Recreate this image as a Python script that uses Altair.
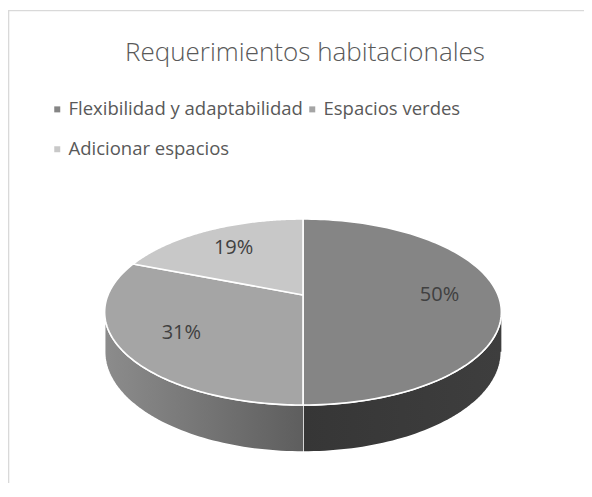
import altair as alt
import pandas as pd

# ---- data ----
categories = ["Flexibilidad y adaptabilidad", "Espacios verdes", "Adicionar espacios"]
values = [50, 31, 19]
labels = ["50%", "31%", "19%"]
top_colors = ["#858585", "#a5a5a5", "#c8c8c8"]

df = pd.DataFrame({"cat": categories, "value": values, "label": labels,
                   "ord": list(range(len(categories)))})

# ---- 3D view parameters (style) ----
P = 0.183     # perspective strength
S = 0.461     # vertical squash of the tilted disc
D = 0.197     # extrusion depth
N = 120       # arc resolution
M = 60        # side arc resolution

W, H = 576, 473
PAD_TOP = 2
x_dom = [-1.5128, 1.4410]
y_dom = [-0.9641, 1.4615]

xs = alt.Scale(domain=x_dom, nice=False, zero=False)
ys = alt.Scale(domain=y_dom, nice=False, zero=False)

base = (
    alt.Chart(df)
    .transform_window(cum="sum(value)", sort=[alt.SortField("ord")], frame=[None, 0])
    .transform_joinaggregate(total="sum(value)")
    .transform_calculate(
        a0="2*PI*(datum.cum-datum.value)/datum.total",
        a1="2*PI*datum.cum/datum.total",
    )
)

# top face wedges
top = (
    base.transform_calculate(t=f"sequence(-1, {N + 2})")
    .transform_flatten(["t"])
    .transform_calculate(
        rr=f"(datum.t < 0 || datum.t > {N}) ? 0 : 1",
        ang=f"datum.a0 + (datum.a1-datum.a0)*clamp(datum.t,0,{N})/{N}",
    )
    .transform_calculate(X="datum.rr*sin(datum.ang)", Z="datum.rr*cos(datum.ang)")
    .transform_calculate(w=f"1 + {P}*datum.Z")
    .transform_calculate(px="datum.X/datum.w", py=f"{S}*datum.Z/datum.w")
    .mark_line(filled=True, stroke="white", strokeWidth=1.6, strokeJoin="round")
    .encode(
        x=alt.X("px:Q", scale=xs, axis=None),
        y=alt.Y("py:Q", scale=ys, axis=None),
        order=alt.Order("t:Q"),
        color=alt.Color(
            "cat:N",
            scale=alt.Scale(domain=categories, range=top_colors),
            legend=alt.Legend(
                title=None, orient="none", legendX=40, legendY=90, columns=2,
                direction="horizontal",
                symbolType="square", symbolSize=36, symbolStrokeWidth=0,
                labelFont="Open Sans", labelFontSize=18.5, labelColor="#595959",
                labelOffset=2, columnPadding=0, rowPadding=21, labelLimit=400,
            ),
            sort=categories,
        ),
    )
)

# side (front half) bands, drawn as closed polygons: top arc then bottom arc back
side_base = (
    base.transform_calculate(
        b0=f"max(datum.a0, acos(-{P}))",
        b1=f"min(datum.a1, 2*PI - acos(-{P}))",
    )
    .transform_filter("datum.b1 > datum.b0")
    .transform_calculate(t=f"sequence(0, {2 * M + 2})")
    .transform_flatten(["t"])
    .transform_calculate(
        lower=f"datum.t > {M} ? 1 : 0",
        ang=f"datum.t <= {M} ? datum.b0 + (datum.b1-datum.b0)*datum.t/{M}"
            f" : datum.b1 - (datum.b1-datum.b0)*(datum.t-{M + 1})/{M}",
    )
    .transform_calculate(X="sin(datum.ang)", Z="cos(datum.ang)")
    .transform_calculate(w=f"1 + {P}*datum.Z")
    .transform_calculate(
        px="datum.X/datum.w",
        py=f"{S}*datum.Z/datum.w - datum.lower*{D}/datum.w",
    )
)


def side_layer(cat, c_left, c_right):
    return (
        side_base.transform_filter(alt.datum.cat == cat)
        .mark_line(
            filled=True, stroke="white", strokeWidth=1.6, strokeJoin="round",
            fill=alt.Gradient(
                gradient="linear", x1=0, x2=1, y1=0, y2=0,
                stops=[alt.GradientStop(offset=0, color=c_left),
                       alt.GradientStop(offset=1, color=c_right)],
            ),
        )
        .encode(
            x=alt.X("px:Q", scale=xs, axis=None),
            y=alt.Y("py:Q", scale=ys, axis=None),
            order=alt.Order("t:Q"),
        )
    )


side1 = side_layer(categories[0], "#363636", "#3e3e3e")
side2 = side_layer(categories[1], "#8c8c8c", "#5e5e5e")

# percentage labels
lab = (
    base.transform_calculate(m="(datum.a0+datum.a1)/2")
    .transform_calculate(X="0.7*sin(datum.m)", Z="0.7*cos(datum.m)")
    .transform_calculate(w=f"1 + {P}*datum.Z")
    .transform_calculate(px="datum.X/datum.w", py=f"{S}*datum.Z/datum.w")
    .mark_text(font="Open Sans", fontSize=20, color="#404040", align="center", baseline="middle")
    .encode(
        x=alt.X("px:Q", scale=xs, axis=None),
        y=alt.Y("py:Q", scale=ys, axis=None),
        text="label:N",
    )
)

# chart frame (decoration): thin rects along the top and left edges only
one = alt.Chart(pd.DataFrame({"k": [0]}))
frame_top = one.mark_rect(color="#d9d9d9", strokeWidth=0).encode(
    x=alt.value(0), x2=alt.value(576), y=alt.value(0), y2=alt.value(1.3))
frame_left = one.mark_rect(color="#d9d9d9", strokeWidth=0).encode(
    x=alt.value(0), x2=alt.value(1.3), y=alt.value(0), y2=alt.value(473))

chart = (
    alt.layer(frame_top, frame_left, side1, side2, top, lab)
    .properties(
        width=W, height=H,
        title=alt.Title("Requerimientos habitacionales", font="Open Sans", fontSize=26,
                        fontWeight=300, color="#595959", anchor="middle", offset=-56, dx=9,
                        frame="group"),
        autosize=alt.AutoSizeParams(type="none"),
        padding={"top": PAD_TOP, "left": 0, "right": 0, "bottom": 0},
        background="white",
    )
    .configure_view(strokeWidth=0, stroke="transparent")
)

chart.save("out.html", embed_options={"renderer": "svg", "actions": False})
